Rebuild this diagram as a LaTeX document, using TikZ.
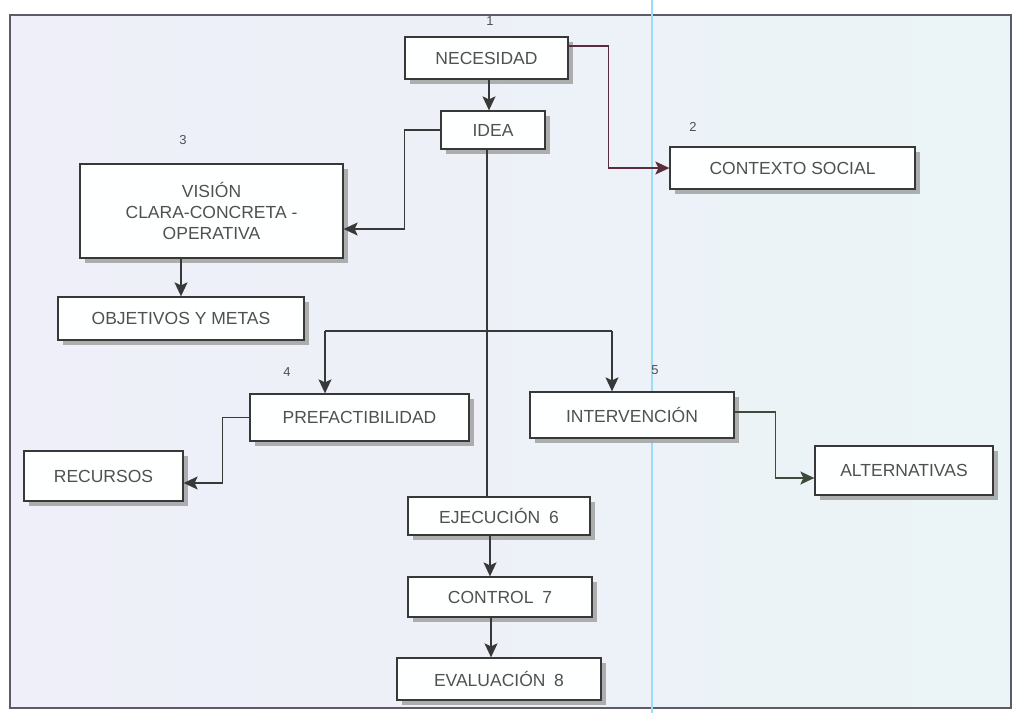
\documentclass[tikz,border=0pt]{standalone}
\usepackage{fontspec}
\setmainfont{Liberation Sans}
\usetikzlibrary{arrows.meta,shadows}

\definecolor{paperL}{HTML}{EEEFF8}
\definecolor{paperR}{HTML}{EBF4F6}
\definecolor{framec}{HTML}{5E5A66}
\definecolor{edgec}{HTML}{383838}
\definecolor{textc}{HTML}{505050}
\definecolor{wine}{HTML}{5A2D3E}
\definecolor{moss}{HTML}{3E4A3A}

\tikzset{
  box/.style={draw=edgec, line width=1.3pt, fill=white!97!paperR,
    text=textc, inner sep=0pt, align=center,
    font=\fontsize{17.5}{21}\selectfont,
    drop shadow={shadow xshift=4.5pt, shadow yshift=-4.5pt, fill=black!35, opacity=0.9}},
  num/.style={text=textc, inner sep=0pt, font=\fontsize{13}{15}\selectfont},
  conn/.style={draw=edgec, line width=1.4pt},
  arr/.style={conn, -{Stealth[length=14pt,width=13pt,inset=3pt]}},
  arrwine/.style={arr, draw=wine},
  arrmoss/.style={arr, draw=moss},
}

\begin{document}
\begin{tikzpicture}[x=1pt, y=-1pt]
  % page and paper
  \useasboundingbox (0,0) rectangle (1015,713);
  \fill[white] (0,0) rectangle (1015,713);
  \shade[left color=paperL, right color=paperR] (10,15) rectangle (1011,708);
  \draw[framec, line width=1.4pt] (10,15) rectangle (1011,708);
  \draw[cyan!40, line width=1.6pt] (652,0) -- (652,713);

  % boxes
  \node[box, minimum width=163pt, minimum height=42pt] (nec) at (486.5,58) {NECESIDAD};
  \node[box, minimum width=104pt, minimum height=38pt] (idea) at (493,130) {IDEA};
  \node[box, minimum width=245pt, minimum height=42pt] (ctx) at (792.5,168) {CONTEXTO SOCIAL};
  \node[box, minimum width=263pt, minimum height=94pt] (vis) at (211.5,211) {VISIÓN\\CLARA-CONCRETA -\\OPERATIVA};
  \node[box, minimum width=246pt, minimum height=43pt] (obj) at (181,318.5) {OBJETIVOS Y METAS};
  \node[box, minimum width=219pt, minimum height=47pt] (pre) at (359.5,417.5) {PREFACTIBILIDAD};
  \node[box, minimum width=204pt, minimum height=46pt] (int) at (632,415) {INTERVENCIÓN};
  \node[box, minimum width=159pt, minimum height=50pt] (rec) at (103.5,476) {RECURSOS};
  \node[box, minimum width=178pt, minimum height=49pt] (alt) at (904,470.5) {ALTERNATIVAS};
  \node[box, minimum width=182pt, minimum height=38pt] (eje) at (499,516) {EJECUCIÓN\enspace 6};
  \node[box, minimum width=184pt, minimum height=40pt] (con) at (500,597) {CONTROL\enspace 7};
  \node[box, minimum width=204pt, minimum height=42pt] (eva) at (499,679) {EVALUACIÓN\enspace 8};

  % step numbers
  \node[num] (n1) at (490,21) {1};
  \node[num] (n2) at (693,127) {2};
  \node[num] (n3) at (183,140) {3};
  \node[num] (n4) at (287,372) {4};
  \node[num] (n5) at (655,370) {5};

  % connectors
  \draw[arr] ([xshift=2.5pt]nec.south) -- ([xshift=-4pt]idea.north);
  \draw[arrwine] ([yshift=12pt]nec.east) -- ++(40,0) |- (ctx.west);
  \draw[arr] (idea.west) -- ++(-36,0) |- ([yshift=-18pt]vis.east);
  \draw[arr] (vis.south -| obj.north) -- (obj.north);

  % trunk from IDEA down to EJECUCIÓN with the branch to steps 4 and 5
  \draw[conn] ([xshift=-6pt]idea.south) -- ([xshift=-12pt]eje.north);
  \coordinate (bl) at (325,331);
  \coordinate (br) at (612,331);
  \draw[conn] (bl) -- (br);
  \draw[arr] (bl) -- (bl |- pre.north);
  \draw[arr] (br) -- (br |- int.north);

  \draw[arr] (pre.west) -- ++(-27,0) |- ([yshift=-7pt]rec.east);
  \draw[arrmoss] ([yshift=3pt]int.east) -- ++(41,0) |- ([yshift=-7.5pt]alt.west);

  \draw[arr] ([xshift=-9pt]eje.south) -- ([xshift=-10pt]con.north);
  \draw[arr] ([xshift=-9pt]con.south) -- ([xshift=-8pt]eva.north);
\end{tikzpicture}
\end{document}
